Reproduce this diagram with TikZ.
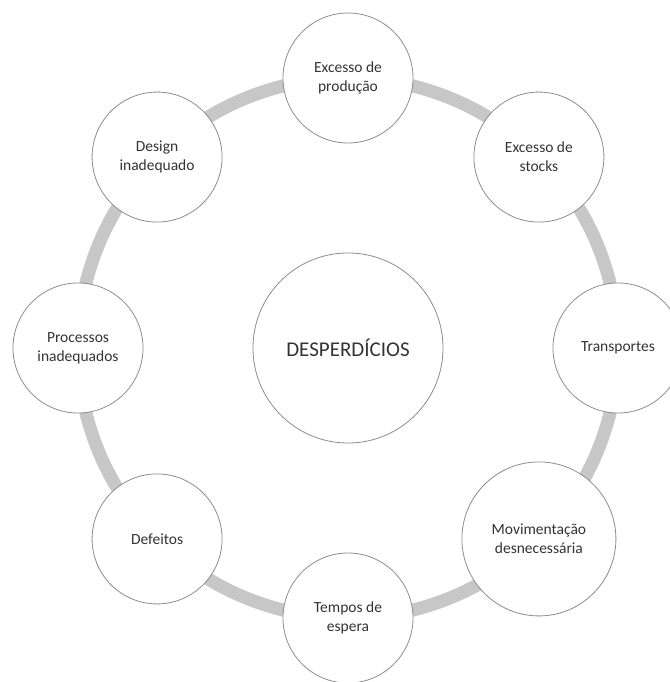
\documentclass[tikz,border=0pt]{standalone}
\usepackage{fontspec}
\setmainfont{Carlito}
\usetikzlibrary{backgrounds}

\begin{document}
\begin{tikzpicture}[x=1pt,y=1pt,
  waste/.style={circle,draw=black!45,line width=0.8pt,fill=white,minimum size=130pt,
    inner sep=0pt,align=center,text=black!80,font=\fontsize{15.5}{19}\selectfont},
  band/.style={line width=13pt,black!22}]
  \useasboundingbox (-348,-334) rectangle (321,348);
  \node[waste,minimum size=190pt,font=\fontsize{21}{25}\selectfont] (desp) at (0,0) {DESPERDÍCIOS};
  \node[waste] (prod) at (90:270) {Excesso de\\produção};
  \node[waste] (stocks) at (45:270) {Excesso de\\stocks};
  \node[waste] (transp) at (0:270) {Transportes};
  \node[waste,minimum size=154pt] (movim) at (-45:270) {Movimentação\\desnecessária};
  \node[waste] (espera) at (-90:270) {Tempos de\\espera};
  \node[waste] (defeitos) at (-135:270) {Defeitos};
  \node[waste] (proc) at (180:270) {Processos\\inadequados};
  \node[waste] (design) at (135:270) {Design\\inadequado};
  % grey ring behind the circles
  \begin{scope}[on background layer]
    \foreach \a/\b in {prod/stocks,stocks/transp,transp/movim,movim/espera,
        espera/defeitos,defeitos/proc,proc/design,design/prod}
      \draw[band] (\a.center) to[bend left=22.5,looseness=0.885] (\b.center);
  \end{scope}
\end{tikzpicture}
\end{document}
